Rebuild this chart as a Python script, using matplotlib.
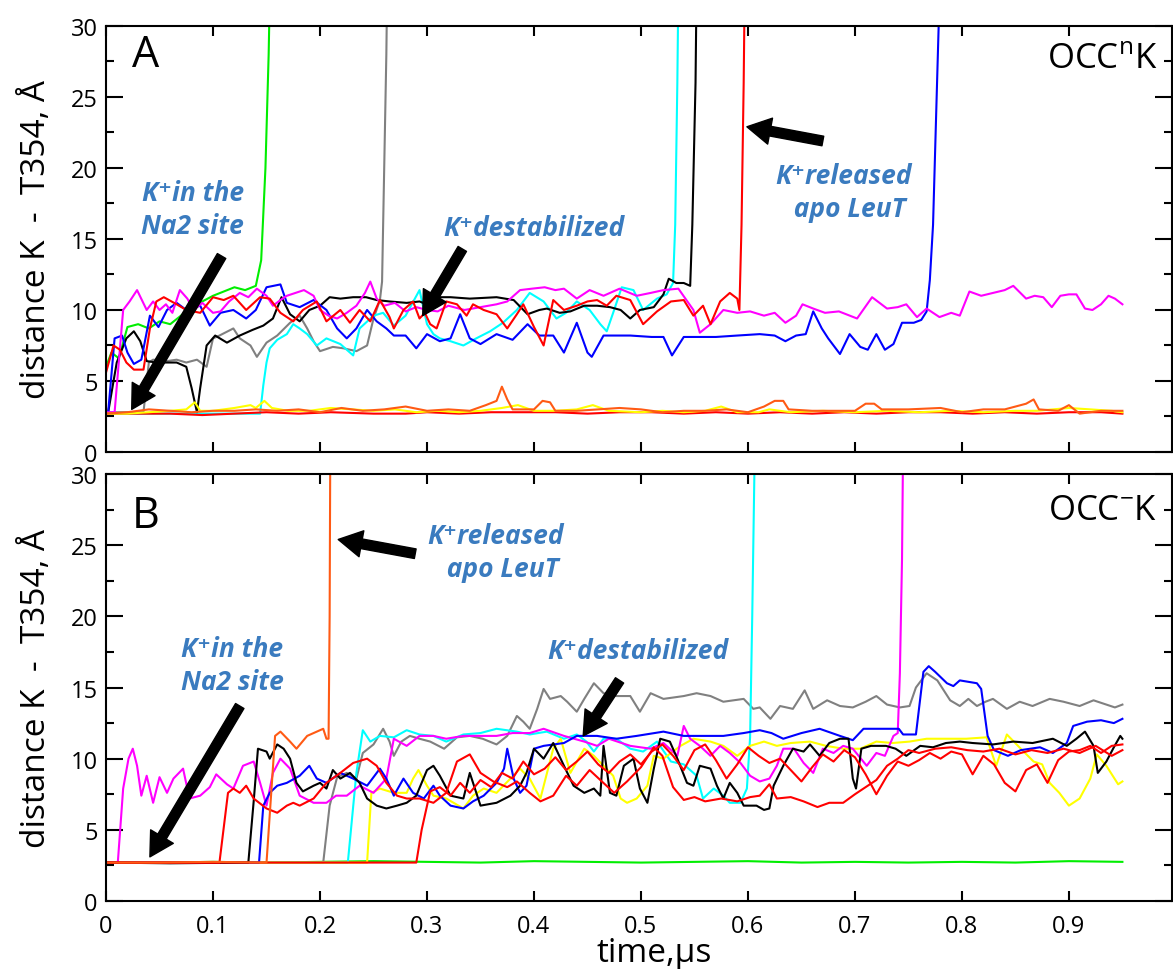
import matplotlib

matplotlib.use("Agg")
import matplotlib.pyplot as plt
from matplotlib.ticker import MultipleLocator, FixedLocator

plt.rcParams["font.family"] = ["Open Sans", "DejaVu Sans"]
plt.rcParams["mathtext.fontset"] = "custom"
plt.rcParams["mathtext.rm"] = "Open Sans"

# ---- panel A (OCC^n K) traces: (time in us, distance in A) ----
A_green = [(0, 6.0), (.005, 7.0), (.012, 6.6), (.02, 8.8), (.03, 9.0), (.04, 8.7), (.05, 9.2), (.06, 9.0),
           (.07, 9.6), (.08, 10.2), (.09, 10.6), (.10, 11.0), (.11, 11.3), (.12, 11.6), (.13, 11.4),
           (.14, 11.7), (.145, 13.5), (.149, 20), (.152, 28), (.155, 40)]
A_magenta = [(0, 2.8), (.008, 2.8), (.016, 10.0), (.022, 10.6), (.029, 11.4), (.038, 10.0), (.044, 10.6),
             (.05, 10.0), (.056, 10.4), (.062, 9.8), (.069, 11.4), (.076, 10.8), (.082, 10.0), (.09, 10.5),
             (.1, 9.8), (.107, 9.9), (.115, 10.6), (.125, 11.2), (.133, 10.9), (.141, 11.5), (.15, 11.0),
             (.156, 10.3), (.163, 10.7), (.169, 11.0), (.177, 11.2), (.185, 11.4), (.194, 11.0), (.2, 10.0),
             (.208, 9.6), (.216, 9.4), (.225, 9.8), (.234, 10.3), (.242, 11.2), (.247, 12.0), (.253, 10.8),
             (.26, 10.3), (.27, 10.5), (.28, 9.9), (.29, 10.2), (.30, 10.0), (.31, 9.9), (.32, 10.3),
             (.335, 10.0), (.35, 10.2), (.365, 10.4), (.375, 10.6), (.387, 11.4), (.398, 11.5), (.41, 11.6),
             (.42, 11.4), (.428, 11.5), (.44, 10.8), (.452, 11.4), (.465, 11.0), (.48, 11.5), (.496, 11.0),
             (.509, 11.2), (.521, 11.4), (.535, 11.5), (.549, 10.0), (.555, 8.4), (.565, 9.0), (.577, 10.0),
             (.59, 9.8), (.602, 9.9), (.615, 9.6), (.625, 9.8), (.635, 9.1), (.645, 9.6), (.651, 10.4),
             (.661, 10.1), (.672, 9.8), (.685, 9.9), (.702, 9.4), (.716, 10.9), (.73, 10.1), (.74, 10.2),
             (.748, 10.4), (.758, 9.5), (.767, 10.1), (.779, 9.5), (.79, 9.8), (.798, 9.6), (.807, 11.3),
             (.818, 11.0), (.829, 11.2), (.84, 11.4), (.848, 11.7), (.86, 10.8), (.868, 11.0), (.876, 10.9),
             (.884, 10.2), (.892, 11.0), (.9, 11.1), (.907, 11.1), (.915, 10.1), (.922, 10.0), (.93, 10.4),
             (.937, 11.0), (.943, 10.8), (.95, 10.4)]
A_blue = [(0, 2.8), (.002, 2.8), (.008, 8.0), (.015, 8.2), (.02, 7.0), (.026, 6.2), (.033, 6.5), (.041, 9.6),
          (.049, 8.8), (.057, 10.0), (.066, 10.5), (.075, 10.0), (.088, 10.3), (.097, 8.9), (.107, 9.8),
          (.119, 10.0), (.131, 9.4), (.14, 10.0), (.15, 11.6), (.163, 11.8), (.169, 10.5), (.181, 10.2),
          (.194, 10.7), (.206, 10.0), (.216, 8.7), (.225, 8.0), (.234, 8.7), (.244, 10.0), (.253, 9.2),
          (.262, 8.7), (.269, 8.2), (.28, 8.2), (.29, 7.3), (.3, 8.3), (.312, 7.8), (.322, 8.0), (.331, 9.7),
          (.34, 8.0), (.35, 7.6), (.365, 8.3), (.38, 7.9), (.394, 9.0), (.405, 8.2), (.418, 8.2), (.428, 7.0),
          (.44, 9.1), (.45, 7.0), (.454, 6.7), (.465, 8.2), (.49, 8.2), (.51, 8.1), (.521, 8.1), (.529, 6.8),
          (.54, 8.1), (.57, 8.1), (.59, 8.2), (.611, 8.3), (.625, 8.2), (.635, 7.8), (.645, 8.2), (.654, 8.3),
          (.661, 9.9), (.669, 8.7), (.675, 8.0), (.686, 6.9), (.695, 8.3), (.705, 7.4), (.712, 7.2),
          (.72, 8.3), (.728, 7.2), (.736, 7.6), (.744, 9.1), (.755, 9.1), (.762, 9.3), (.767, 9.9),
          (.77, 12.1), (.773, 16), (.776, 24), (.779, 32), (.781, 40)]
A_red = [(0, 5.6), (.007, 7.5), (.013, 7.2), (.019, 6.3), (.026, 5.8), (.035, 5.8), (.041, 8.7), (.047, 10.6),
         (.054, 10.9), (.066, 10.4), (.075, 10.0), (.088, 9.8), (.1, 10.9), (.11, 10.7), (.119, 11.0),
         (.131, 10.0), (.144, 10.9), (.153, 10.8), (.163, 9.8), (.175, 9.2), (.184, 10.0), (.197, 10.6),
         (.206, 9.2), (.219, 10.0), (.228, 9.1), (.237, 10.0), (.247, 9.2), (.256, 10.7), (.265, 9.5),
         (.269, 8.7), (.278, 10.0), (.287, 10.6), (.293, 9.4), (.298, 9.8), (.303, 9.0), (.309, 8.7),
         (.318, 10.6), (.328, 10.4), (.337, 9.6), (.343, 10.4), (.353, 10.0), (.365, 9.7), (.375, 8.7),
         (.384, 9.7), (.39, 10.4), (.4, 8.8), (.409, 7.5), (.418, 10.7), (.428, 10.0), (.44, 10.3),
         (.45, 10.6), (.459, 10.7), (.468, 10.3), (.477, 11.0), (.49, 10.7), (.502, 9.0), (.515, 9.9),
         (.528, 10.6), (.54, 10.7), (.549, 9.6), (.558, 10.3), (.565, 9.0), (.574, 10.6), (.583, 11.2),
         (.59, 10.8), (.592, 10.0), (.594, 16), (.596, 26), (.598, 40)]
A_black = [(0, 2.8), (.002, 2.8), (.01, 6.3), (.019, 8.0), (.026, 8.5), (.032, 7.8), (.038, 6.4), (.047, 6.3),
           (.057, 6.3), (.066, 6.3), (.075, 6.0), (.08, 4.5), (.085, 2.8), (.088, 4.5), (.094, 7.5),
           (.102, 8.2), (.113, 7.7), (.125, 8.2), (.137, 8.6), (.147, 8.9), (.156, 9.4), (.164, 10.9),
           (.172, 9.7), (.181, 9.2), (.19, 10.0), (.2, 10.3), (.209, 10.9), (.219, 10.8), (.231, 10.9),
           (.243, 10.9), (.253, 10.7), (.265, 10.6), (.281, 10.5), (.293, 10.6), (.303, 10.3), (.312, 10.9),
           (.322, 10.9), (.34, 10.8), (.365, 10.9), (.381, 10.7), (.394, 9.7), (.405, 10.0), (.412, 10.1),
           (.424, 9.8), (.434, 9.9), (.447, 10.3), (.459, 10.3), (.471, 10.2), (.481, 10.0), (.49, 9.4),
           (.499, 10.0), (.512, 10.2), (.521, 11.1), (.526, 12.2), (.533, 11.9), (.54, 11.9), (.546, 11.7),
           (.548, 16), (.551, 26), (.553, 40)]
A_gray = [(0, 2.8), (.035, 2.8), (.04, 6.3), (.044, 6.5), (.057, 6.4), (.066, 6.5), (.075, 6.3), (.085, 6.5),
          (.094, 6.0), (.1, 8.0), (.106, 8.2), (.119, 8.7), (.125, 8.0), (.135, 7.5), (.141, 6.7), (.15, 7.7),
          (.16, 8.2), (.172, 9.1), (.181, 9.6), (.188, 8.7), (.194, 7.8), (.2, 7.1), (.212, 7.4), (.222, 7.3),
          (.234, 7.1), (.244, 7.5), (.25, 9.4), (.256, 10.7), (.258, 12), (.260, 20), (.262, 28), (.264, 40)]
A_cyan = [(0, 2.7), (.05, 2.7), (.1, 2.7), (.144, 2.7), (.147, 4.7), (.15, 6.3), (.153, 7.3), (.16, 7.9),
          (.169, 8.3), (.175, 9.0), (.181, 8.7), (.188, 8.3), (.197, 7.5), (.206, 8.0), (.219, 7.6),
          (.231, 6.8), (.237, 8.7), (.25, 9.6), (.259, 9.8), (.269, 8.9), (.28, 9.6), (.293, 11.4), (.3, 9.0),
          (.306, 8.3), (.312, 8.0), (.322, 7.8), (.334, 7.5), (.346, 8.0), (.359, 8.5), (.371, 9.1),
          (.384, 10.0), (.396, 11.2), (.409, 10.6), (.421, 9.4), (.43, 9.8), (.44, 10.6), (.452, 10.0),
          (.462, 9.0), (.468, 8.5), (.474, 9.8), (.482, 11.6), (.493, 11.4), (.502, 10.0), (.515, 10.8),
          (.524, 11.1), (.53, 11.9), (.532, 16), (.534, 26), (.536, 40)]
A_yellow = [(0, 2.7), (.02, 2.7), (.04, 2.8), (.06, 2.9), (.075, 3.0), (.083, 3.5), (.088, 2.9), (.1, 2.9),
            (.12, 3.1), (.135, 3.3), (.14, 3.1), (.148, 3.6), (.155, 3.1), (.17, 2.9), (.19, 2.9), (.21, 3.1),
            (.23, 3.0), (.25, 2.9), (.27, 3.0), (.29, 2.8), (.31, 2.9), (.33, 2.8), (.35, 2.9), (.37, 3.1),
            (.385, 3.3), (.4, 2.9), (.42, 2.9), (.44, 3.0), (.455, 3.3), (.47, 2.9), (.5, 2.8), (.52, 2.9),
            (.54, 2.8), (.56, 2.9), (.575, 3.2), (.59, 2.8), (.61, 2.8), (.62, 3.0), (.64, 2.8), (.67, 2.9),
            (.7, 2.8), (.73, 2.9), (.76, 2.8), (.79, 2.9), (.82, 2.8), (.85, 2.9), (.87, 2.9), (.9, 3.1),
            (.92, 3.0), (.94, 2.9), (.95, 2.8)]
A_orange = [(0, 2.7), (.02, 2.8), (.04, 3.0), (.06, 2.9), (.08, 2.8), (.1, 2.9), (.12, 2.9), (.14, 3.0),
            (.16, 2.9), (.18, 3.0), (.2, 2.8), (.22, 3.1), (.24, 2.9), (.26, 3.0), (.28, 3.2), (.3, 2.9),
            (.32, 3.0), (.34, 2.9), (.355, 3.3), (.365, 3.6), (.37, 4.6), (.375, 3.7), (.38, 3.0), (.4, 3.0),
            (.408, 3.6), (.415, 3.5), (.42, 2.9), (.44, 2.9), (.46, 3.0), (.48, 3.1), (.5, 3.0), (.52, 2.8),
            (.54, 2.9), (.56, 2.9), (.58, 3.0), (.6, 2.8), (.615, 3.2), (.625, 3.6), (.633, 3.6), (.638, 3.0),
            (.66, 2.9), (.68, 2.9), (.7, 2.9), (.71, 3.4), (.718, 3.4), (.725, 3.0), (.75, 3.0), (.78, 3.1),
            (.8, 2.8), (.82, 3.0), (.84, 3.0), (.86, 3.4), (.867, 3.7), (.872, 3.0), (.89, 2.9), (.9, 3.3),
            (.91, 2.7), (.93, 2.9), (.95, 2.9)]
A_red_low = [(0, 2.7), (.03, 2.7), (.06, 2.7), (.09, 2.6), (.12, 2.7), (.15, 2.8), (.18, 2.7), (.21, 2.8),
             (.25, 2.7), (.28, 2.7), (.3, 2.8), (.33, 2.7), (.36, 2.8), (.39, 2.8), (.42, 2.8), (.45, 2.7),
             (.48, 2.8), (.51, 2.8), (.54, 2.7), (.57, 2.8), (.6, 2.7), (.63, 2.8), (.66, 2.7), (.69, 2.8),
             (.72, 2.7), (.75, 2.8), (.78, 2.8), (.81, 2.7), (.84, 2.8), (.87, 2.7), (.9, 2.8), (.93, 2.8),
             (.95, 2.7)]

# ---- panel B (OCC^- K) traces ----
B_green = [(0, 2.7), (.05, 2.7), (.1, 2.75), (.15, 2.7), (.2, 2.75), (.25, 2.8), (.3, 2.75), (.35, 2.7),
           (.4, 2.8), (.45, 2.75), (.5, 2.7), (.55, 2.75), (.6, 2.8), (.65, 2.7), (.7, 2.75), (.75, 2.7),
           (.8, 2.75), (.85, 2.7), (.9, 2.8), (.95, 2.75)]
B_magenta = [(0, 2.7), (.011, 2.7), (.016, 7.9), (.021, 10.0), (.025, 10.7), (.029, 9.5), (.033, 7.4),
             (.038, 8.8), (.044, 6.9), (.05, 8.7), (.057, 7.6), (.063, 8.6), (.072, 9.3), (.078, 7.2),
             (.088, 7.4), (.097, 8.0), (.103, 8.9), (.113, 8.2), (.119, 7.9), (.128, 9.5), (.138, 9.8),
             (.144, 8.3), (.15, 6.7), (.156, 9.0), (.163, 10.0), (.172, 9.3), (.181, 7.4), (.194, 6.9),
             (.206, 6.9), (.215, 7.4), (.225, 7.4), (.237, 8.1), (.25, 7.6), (.262, 8.6), (.269, 11.4),
             (.281, 10.9), (.293, 11.6), (.306, 11.6), (.318, 11.4), (.334, 11.6), (.35, 11.6), (.365, 11.6),
             (.38, 11.8), (.396, 11.8), (.409, 12.1), (.428, 11.6), (.447, 11.2), (.459, 10.9), (.47, 11.4),
             (.49, 10.9), (.509, 10.7), (.521, 11.1), (.534, 10.2), (.54, 12.3), (.546, 11.4), (.555, 10.9),
             (.565, 10.2), (.574, 10.9), (.583, 10.4), (.593, 9.7), (.602, 8.8), (.611, 8.4), (.62, 8.6),
             (.627, 9.5), (.633, 10.7), (.643, 10.7), (.652, 9.7), (.661, 9.0), (.67, 10.7), (.68, 10.4),
             (.689, 10.9), (.698, 10.7), (.711, 9.5), (.72, 10.4), (.728, 10.2), (.736, 11.6), (.74, 11.8),
             (.742, 16), (.744, 24), (.746, 40)]
B_orange = [(0, 2.7), (.05, 2.7), (.1, 2.75), (.15, 2.7), (.158, 11.6), (.163, 11.9), (.172, 11.2),
            (.178, 10.7), (.188, 11.6), (.197, 11.9), (.203, 12.1), (.206, 11.4), (.208, 11.4), (.209, 20),
            (.21, 40)]
B_red1 = [(0, 2.7), (.05, 2.7), (.106, 2.7), (.114, 7.6), (.119, 7.9), (.125, 7.6), (.131, 8.1), (.138, 7.2),
          (.15, 6.5), (.16, 6.2), (.169, 6.7), (.175, 6.9), (.181, 6.7), (.194, 7.2), (.206, 8.3), (.219, 9.0),
          (.231, 9.7), (.244, 10.0), (.253, 9.5), (.262, 8.3), (.272, 7.4), (.281, 7.2), (.293, 7.2),
          (.306, 6.9), (.318, 7.6), (.328, 9.8), (.34, 10.3), (.35, 9.0), (.362, 8.4), (.375, 8.0),
          (.384, 8.4), (.396, 7.6), (.406, 7.0), (.418, 7.4), (.43, 8.8), (.44, 8.1), (.452, 9.2), (.462, 8.5),
          (.475, 7.6), (.487, 8.4), (.5, 9.4), (.512, 10.8), (.52, 10.2), (.53, 8.0), (.54, 7.1), (.55, 7.3),
          (.56, 7.0), (.575, 7.2), (.59, 7.0), (.602, 7.3), (.611, 7.4), (.62, 8.2), (.627, 7.2), (.64, 7.3),
          (.652, 7.0), (.665, 6.6), (.676, 6.9), (.689, 6.9), (.7, 7.5), (.71, 8.0), (.72, 8.5), (.73, 9.5),
          (.74, 10.0), (.75, 10.6), (.76, 10.4), (.775, 10.7), (.79, 10.8), (.805, 10.6), (.82, 10.5),
          (.835, 10.7), (.85, 10.3), (.865, 10.6), (.88, 10.4), (.895, 10.7), (.91, 10.4), (.925, 10.9),
          (.94, 10.2), (.95, 10.6)]
B_red2 = [(0, 2.7), (.1, 2.7), (.2, 2.7), (.29, 2.7), (.295, 5.0), (.303, 7.7), (.312, 8.0), (.322, 7.4),
          (.331, 8.3), (.34, 7.6), (.35, 8.5), (.36, 8.0), (.37, 9.0), (.38, 8.6), (.39, 9.8), (.4, 8.9),
          (.41, 9.3), (.42, 10.1), (.43, 9.2), (.44, 9.8), (.45, 10.5), (.46, 9.6), (.47, 9.0), (.48, 9.8),
          (.49, 10.3), (.5, 9.6), (.51, 10.5), (.52, 11.0), (.53, 10.2), (.54, 9.2), (.55, 10.6), (.56, 11.0),
          (.57, 9.9), (.58, 8.6), (.59, 9.6), (.6, 10.8), (.61, 10.2), (.62, 9.7), (.63, 10.0), (.64, 9.2),
          (.65, 8.4), (.66, 9.4), (.67, 10.3), (.68, 9.8), (.69, 10.6), (.7, 10.1), (.71, 8.9), (.72, 7.5),
          (.73, 8.8), (.74, 9.8), (.75, 9.5), (.76, 9.9), (.77, 10.4), (.78, 10.0), (.79, 10.5), (.8, 10.3),
          (.81, 8.9), (.82, 10.2), (.83, 9.6), (.84, 8.3), (.85, 7.7), (.86, 9.2), (.87, 9.6), (.88, 8.3),
          (.89, 9.9), (.9, 10.5), (.91, 10.6), (.92, 10.9), (.93, 10.4), (.94, 10.9), (.95, 11.0)]
B_black = [(0, 2.7), (.06, 2.65), (.133, 2.7), (.138, 7.0), (.142, 10.7), (.15, 10.5), (.153, 10.0),
           (.16, 11.0), (.166, 10.7), (.172, 10.0), (.178, 8.3), (.184, 7.7), (.194, 8.1), (.2, 8.3),
           (.206, 7.9), (.212, 9.2), (.219, 8.6), (.228, 9.0), (.237, 8.3), (.244, 7.2), (.253, 6.7),
           (.262, 6.5), (.272, 6.7), (.281, 6.9), (.29, 7.4), (.3, 9.2), (.306, 9.5), (.312, 8.8), (.322, 7.4),
           (.334, 7.2), (.34, 9.0), (.35, 6.7), (.365, 6.9), (.378, 7.4), (.387, 8.1), (.393, 9.0), (.4, 10.7),
           (.409, 10.0), (.418, 11.1), (.428, 9.5), (.437, 8.1), (.447, 7.6), (.456, 7.9), (.462, 7.4),
           (.465, 10.9), (.471, 7.6), (.477, 7.4), (.484, 9.5), (.493, 10.0), (.499, 7.9), (.506, 6.9),
           (.512, 9.3), (.518, 11.4), (.527, 11.2), (.534, 10.0), (.543, 8.3), (.549, 8.1), (.555, 9.5),
           (.565, 9.3), (.571, 8.1), (.577, 7.2), (.583, 8.3), (.59, 7.6), (.596, 6.7), (.608, 6.7),
           (.615, 6.4), (.62, 6.5), (.624, 8.1), (.633, 9.5), (.642, 10.7), (.652, 10.5), (.658, 11.0),
           (.667, 10.2), (.676, 11.1), (.686, 11.4), (.694, 11.4), (.698, 8.6), (.701, 7.9), (.706, 10.7),
           (.715, 10.9), (.729, 10.9), (.738, 10.7), (.748, 10.2), (.761, 10.9), (.773, 10.8), (.785, 11.1),
           (.798, 11.2), (.81, 11.1), (.829, 11.0), (.848, 11.2), (.866, 11.1), (.885, 11.4), (.898, 10.9),
           (.907, 11.4), (.915, 11.9), (.923, 10.9), (.927, 9.0), (.935, 9.8), (.942, 10.8), (.948, 11.6),
           (.95, 11.4)]
B_blue = [(0, 2.7), (.07, 2.7), (.143, 2.7), (.147, 6.7), (.153, 7.6), (.16, 8.1), (.169, 8.3), (.181, 8.8),
          (.19, 9.5), (.197, 8.6), (.206, 8.3), (.219, 9.0), (.231, 8.6), (.244, 8.1), (.256, 9.3), (.262, 8.6),
          (.269, 7.4), (.278, 8.6), (.287, 7.6), (.297, 7.2), (.306, 8.1), (.312, 7.4), (.322, 6.7),
          (.334, 6.5), (.343, 7.0), (.353, 7.4), (.365, 8.3), (.372, 9.3), (.375, 10.7), (.381, 8.6),
          (.387, 7.6), (.393, 8.1), (.4, 10.7), (.409, 10.9), (.428, 11.1), (.44, 11.6), (.459, 11.6),
          (.477, 11.4), (.496, 11.6), (.521, 11.9), (.54, 11.6), (.558, 11.6), (.577, 11.6), (.596, 11.8),
          (.611, 12.0), (.622, 11.8), (.633, 11.4), (.65, 11.8), (.667, 12.1), (.686, 11.6), (.698, 11.3),
          (.708, 12.1), (.729, 12.1), (.741, 12.1), (.745, 11.7), (.757, 11.7), (.764, 16.1), (.769, 16.5),
          (.775, 16.1), (.786, 15.3), (.792, 15.1), (.798, 15.5), (.814, 15.3), (.818, 14.9), (.824, 11.6),
          (.83, 10.6), (.843, 10.2), (.855, 10.6), (.873, 10.8), (.885, 10.4), (.898, 11.1), (.904, 12.3),
          (.917, 12.6), (.93, 12.7), (.942, 12.5), (.95, 12.8)]
B_cyan = [(0, 2.7), (.1, 2.7), (.226, 2.7), (.234, 9.0), (.24, 12.0), (.247, 11.2), (.256, 11.6), (.269, 11.5),
          (.281, 12.0), (.293, 11.7), (.306, 11.6), (.318, 11.2), (.334, 11.7), (.35, 11.8), (.365, 12.1),
          (.384, 11.9), (.396, 11.7), (.412, 11.9), (.428, 11.4), (.44, 11.7), (.449, 11.2), (.456, 10.5),
          (.465, 11.4), (.477, 11.4), (.49, 10.7), (.502, 10.5), (.515, 11.2), (.528, 9.8), (.54, 9.6),
          (.552, 8.8), (.558, 7.2), (.568, 7.9), (.577, 7.4), (.583, 6.9), (.593, 6.9), (.599, 7.9),
          (.602, 11.5), (.604, 20), (.606, 30), (.608, 40)]
B_gray = [(0, 2.7), (.1, 2.7), (.203, 2.7), (.209, 6.7), (.216, 8.7), (.225, 9.0), (.234, 8.6), (.24, 10.4),
          (.25, 11.0), (.259, 12.1), (.265, 11.2), (.269, 10.2), (.276, 11.2), (.284, 11.6), (.293, 11.4),
          (.303, 11.2), (.316, 10.7), (.328, 11.5), (.34, 11.6), (.352, 11.4), (.365, 11.0), (.375, 11.6),
          (.384, 13.0), (.39, 12.6), (.396, 12.1), (.403, 13.5), (.409, 14.9), (.415, 14.2), (.425, 14.4),
          (.431, 14.0), (.44, 13.3), (.447, 14.2), (.456, 15.3), (.465, 14.6), (.477, 14.4), (.49, 14.4),
          (.499, 13.3), (.509, 14.6), (.521, 14.2), (.54, 14.4), (.552, 14.6), (.565, 14.4), (.577, 14.0),
          (.596, 14.2), (.605, 13.5), (.611, 13.6), (.621, 12.8), (.63, 13.7), (.642, 13.5), (.653, 14.8),
          (.661, 13.5), (.674, 14.1), (.686, 13.7), (.698, 13.6), (.71, 14.0), (.72, 14.4), (.73, 13.8),
          (.742, 13.6), (.751, 13.7), (.757, 15.0), (.767, 16.0), (.777, 15.5), (.789, 14.1), (.798, 13.7),
          (.806, 14.2), (.814, 13.7), (.822, 14.0), (.829, 14.2), (.842, 13.5), (.854, 14.0), (.866, 13.7),
          (.882, 14.2), (.895, 14.0), (.91, 13.7), (.923, 14.1), (.935, 13.8), (.943, 13.6), (.95, 13.8)]
B_yellow = [(0, 2.7), (.1, 2.7), (.2, 2.7), (.244, 2.7), (.248, 7.6), (.256, 7.9), (.269, 7.6), (.281, 7.6),
            (.287, 8.6), (.292, 9.2), (.3, 8.1), (.306, 7.4), (.318, 7.2), (.334, 6.5), (.343, 7.4),
            (.353, 7.9), (.365, 7.6), (.378, 8.6), (.387, 9.3), (.396, 8.6), (.406, 7.2), (.418, 10.7),
            (.425, 11.4), (.434, 9.0), (.447, 10.7), (.456, 10.2), (.465, 9.5), (.474, 8.8), (.481, 7.2),
            (.487, 6.9), (.496, 7.2), (.506, 8.1), (.512, 10.2), (.521, 10.0), (.537, 10.9), (.549, 11.4),
            (.565, 11.2), (.577, 10.9), (.59, 10.2), (.602, 10.9), (.615, 11.2), (.627, 10.9), (.64, 11.1),
            (.658, 11.2), (.673, 10.9), (.689, 10.7), (.705, 10.7), (.72, 11.2), (.735, 11.1), (.751, 11.2),
            (.767, 11.4), (.785, 11.4), (.804, 11.4), (.823, 11.5), (.832, 9.5), (.842, 11.7), (.855, 10.7),
            (.867, 9.8), (.875, 9.6), (.882, 8.3), (.891, 7.6), (.9, 6.7), (.91, 7.2), (.92, 8.6), (.926, 10.3),
            (.935, 9.5), (.946, 8.2), (.95, 8.4)]

x_ticks = [0, 0.1, 0.2, 0.3, 0.4, 0.5, 0.6, 0.7, 0.8, 0.9]
x_tick_labels = ["0", "0.1", "0.2", "0.3", "0.4", "0.5", "0.6", "0.7", "0.8", "0.9"]

RED, ORANGE, YELLOW = "#ff0000", "#ff5a14", "#ffff00"
GREEN, CYAN, BLUE = "#00ee00", "#00ffff", "#0000ff"
MAGENTA, GRAY, BLACK = "#ff00ff", "#808080", "#000000"
TXT = "#3a7bbf"

panel_A = [(A_gray, GRAY), (A_cyan, CYAN), (A_green, GREEN), (A_black, BLACK), (A_blue, BLUE),
           (A_magenta, MAGENTA), (A_red, RED), (A_red_low, RED), (A_yellow, YELLOW), (A_orange, ORANGE)]
panel_B = [(B_green, GREEN), (B_gray, GRAY), (B_cyan, CYAN), (B_yellow, YELLOW), (B_magenta, MAGENTA),
           (B_blue, BLUE), (B_black, BLACK), (B_red1, RED), (B_red2, RED), (B_orange, ORANGE)]

fig = plt.figure(figsize=(11.73, 9.70), dpi=100)
axA = fig.add_axes([0.0904, 0.533, 0.9087, 0.4392])
axB = fig.add_axes([0.0904, 0.0701, 0.9087, 0.4402])


def arrow(ax, tail, head):
    ax.annotate("", xy=head, xytext=tail,
                arrowprops=dict(arrowstyle="simple,head_length=1.7,head_width=1.9,tail_width=0.7",
                                color="k", mutation_scale=10, shrinkA=0, shrinkB=0))


for ax, series in [(axA, panel_A), (axB, panel_B)]:
    for pts, col in series:
        t, v = zip(*pts)
        ax.plot(t, v, color=col, lw=1.5)
    ax.set_xlim(0, 0.9963)
    ax.set_ylim(0, 30)
    ax.xaxis.set_major_locator(FixedLocator(x_ticks))
    ax.yaxis.set_major_locator(MultipleLocator(5))
    ax.yaxis.set_minor_locator(MultipleLocator(2.5))
    ax.tick_params(axis="both", which="both", direction="in", top=True, right=True, width=1.5,
                   labelsize=17)
    ax.tick_params(axis="y", which="major", length=12, pad=6)
    ax.tick_params(axis="y", which="minor", length=6)
    ax.tick_params(axis="x", which="major", length=7, pad=9)
    for s in ax.spines.values():
        s.set_linewidth(1.5)
    ax.set_ylabel("distance K  -  T354, Å", fontsize=24)
    ax.yaxis.set_label_coords(-0.05, 0.5)

axA.set_xticklabels([])
axB.set_xticklabels(x_tick_labels)

ann = dict(color=TXT, fontsize=19, fontweight="bold", fontstyle="italic", ha="center", va="center",
           linespacing=1.3)

# panel A annotations
axA.text(0.037, 28.0, "A", fontsize=31, ha="center", va="center")
axA.text(0.983, 27.7, r"OCC$^{\rm n}$K", fontsize=25, ha="right", va="center")
axA.text(0.081, 17.1, "K⁺in the\nNa2 site", **ann)
arrow(axA, (0.108, 13.8), (0.024, 3.0))
axA.text(0.40, 15.8, "K⁺destabilized", **ann)
arrow(axA, (0.333, 14.3), (0.296, 9.6))
axA.text(0.689, 18.3, "K⁺released\n  apo LeuT", **ann)
arrow(axA, (0.670, 21.9), (0.599, 22.9))

# panel B annotations
axB.text(0.037, 27.1, "B", fontsize=31, ha="center", va="center")
axB.text(0.983, 27.5, r"OCC$^{\!\rm -}\!$K", fontsize=25, ha="right", va="center")
axB.text(0.118, 16.6, "K⁺in the\nNa2 site", **ann)
arrow(axB, (0.125, 13.7), (0.041, 3.1))
axB.text(0.364, 24.5, "K⁺released\n  apo LeuT", **ann)
arrow(axB, (0.289, 24.4), (0.217, 25.4))
axB.text(0.497, 17.6, "K⁺destabilized", **ann)
arrow(axB, (0.480, 15.5), (0.446, 11.6))

fig.text(0.5575, 0.0175, "time,μs", fontsize=24, ha="center", va="center")

fig.savefig("out.png", dpi=100)
plt.close(fig)
